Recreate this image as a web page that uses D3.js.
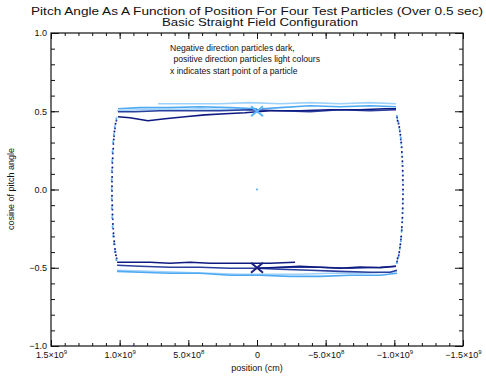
<!DOCTYPE html>
<html>
<head>
<meta charset="utf-8">
<script src="https://cdn.jsdelivr.net/npm/d3@7"></script>
<style>
  html, body { margin: 0; padding: 0; background: #fff; }
  svg { display: block; font-family: "Liberation Sans", Arial, sans-serif; }
</style>
</head>
<body>
<svg id="chart" width="486" height="379"></svg>
<script>
// ---- axis ticks ----
const xMajorTicks = [1.5e9, 1.0e9, 5.0e8, 0, -5.0e8, -1.0e9, -1.5e9];
const xTickLabels = [["1.5", "9"], ["1.0", "9"], ["5.0", "8"], ["0", null], ["\u22125.0", "8"], ["\u22121.0", "9"], ["\u22121.5", "9"]];
const yMajorTicks = [-1.0, -0.5, 0.0, 0.5, 1.0];
const yTickLabels = ["\u22121.0", "\u22120.5", "0.0", "0.5", "1.0"];

// ---- particle tracks: [position (cm), cosine of pitch angle], in time order ----
// Negative direction particle A (dark navy)
const darkTrackA = [
  [0, -0.503], [-1.67e8, -0.497], [-3.13e8, -0.490], [-4.59e8, -0.497], [-6.04e8, -0.503],
  [-7.50e8, -0.495], [-8.96e8, -0.500], [-1.012e9, -0.490],
  [-1.024e9, -0.44], [-1.036e9, -0.40], [-1.044e9, -0.35], [-1.050e9, -0.30], [-1.055e9, -0.24],
  [-1.059e9, -0.18], [-1.061e9, -0.12], [-1.062e9, -0.06], [-1.063e9, 0.00], [-1.062e9, 0.06],
  [-1.061e9, 0.12], [-1.059e9, 0.18], [-1.055e9, 0.24], [-1.050e9, 0.30], [-1.044e9, 0.35],
  [-1.036e9, 0.40], [-1.024e9, 0.44],
  [-1.012e9, 0.516], [-9.32e8, 0.516], [-7.50e8, 0.510], [-5.31e8, 0.510], [-3.13e8, 0.503],
  [-9.5e7, 0.503], [8.7e7, 0.490], [2.33e8, 0.484], [3.79e8, 0.477], [5.24e8, 0.465],
  [6.70e8, 0.452], [7.94e8, 0.439], [9.25e8, 0.458], [1.012e9, 0.465],
  [1.030e9, 0.42], [1.038e9, 0.37], [1.043e9, 0.32], [1.047e9, 0.26], [1.051e9, 0.20],
  [1.053e9, 0.14], [1.055e9, 0.08], [1.056e9, 0.02], [1.056e9, -0.04], [1.054e9, -0.10],
  [1.052e9, -0.16], [1.049e9, -0.22], [1.045e9, -0.28], [1.040e9, -0.33], [1.034e9, -0.38],
  [1.027e9, -0.42],
  [1.019e9, -0.465], [9.25e8, -0.465], [7.79e8, -0.465], [6.34e8, -0.471], [4.88e8, -0.465],
  [3.42e8, -0.471], [1.97e8, -0.471], [5.1e7, -0.471], [-9.5e7, -0.471], [-2.77e8, -0.465]
];
// Negative direction particle B (dark blue)
const darkTrackB = [
  [0, -0.503], [-1.67e8, -0.510], [-3.86e8, -0.516], [-6.04e8, -0.523], [-8.23e8, -0.529],
  [-9.69e8, -0.529], [-1.019e9, -0.516],
  [-1.020e9, -0.46], [-1.032e9, -0.42], [-1.041e9, -0.37], [-1.048e9, -0.32], [-1.054e9, -0.26],
  [-1.057e9, -0.21], [-1.060e9, -0.15], [-1.062e9, -0.09], [-1.063e9, -0.03], [-1.063e9, 0.03],
  [-1.062e9, 0.09], [-1.060e9, 0.15], [-1.057e9, 0.21], [-1.053e9, 0.27], [-1.047e9, 0.32],
  [-1.040e9, 0.37], [-1.031e9, 0.42], [-1.020e9, 0.46],
  [-1.012e9, 0.510], [-8.23e8, 0.503], [-6.04e8, 0.510], [-3.86e8, 0.497], [-1.67e8, 0.503],
  [5.1e7, 0.510], [2.69e8, 0.503], [4.88e8, 0.503], [7.06e8, 0.503], [8.88e8, 0.497],
  [1.012e9, 0.497],
  [1.024e9, 0.44], [1.034e9, 0.39], [1.041e9, 0.34], [1.046e9, 0.29], [1.050e9, 0.23],
  [1.053e9, 0.17], [1.055e9, 0.11], [1.056e9, 0.05], [1.056e9, -0.01], [1.055e9, -0.07],
  [1.053e9, -0.13], [1.050e9, -0.19], [1.047e9, -0.25], [1.042e9, -0.30], [1.037e9, -0.35],
  [1.030e9, -0.40], [1.022e9, -0.44],
  [1.019e9, -0.484], [8.52e8, -0.490], [6.34e8, -0.497], [4.15e8, -0.497], [1.97e8, -0.503],
  [-2.2e7, -0.503], [-2.40e8, -0.497], [-4.59e8, -0.497], [-6.77e8, -0.503], [-8.96e8, -0.497],
  [-1.012e9, -0.490]
];
// Positive direction particle A (light blue)
const lightTrackA = [
  [0, 0.516], [1.97e8, 0.523], [4.15e8, 0.529], [6.34e8, 0.523], [8.52e8, 0.523], [1.012e9, 0.516],
  [1.024e9, 0.45], [1.036e9, 0.40], [1.043e9, 0.35], [1.048e9, 0.30], [1.052e9, 0.24],
  [1.055e9, 0.18], [1.057e9, 0.12], [1.058e9, 0.06], [1.058e9, 0.00], [1.058e9, -0.06],
  [1.057e9, -0.12], [1.055e9, -0.18], [1.052e9, -0.24], [1.048e9, -0.30], [1.043e9, -0.35],
  [1.036e9, -0.40], [1.024e9, -0.45],
  [1.019e9, -0.523], [8.52e8, -0.529], [6.34e8, -0.535], [4.15e8, -0.535], [1.97e8, -0.548],
  [-2.2e7, -0.548], [-2.40e8, -0.555], [-4.59e8, -0.555], [-6.77e8, -0.548], [-8.96e8, -0.548],
  [-1.019e9, -0.535],
  [-1.018e9, -0.47], [-1.030e9, -0.43], [-1.040e9, -0.38], [-1.047e9, -0.33], [-1.053e9, -0.27],
  [-1.057e9, -0.21], [-1.060e9, -0.15], [-1.062e9, -0.09], [-1.063e9, -0.03], [-1.063e9, 0.03],
  [-1.062e9, 0.09], [-1.060e9, 0.15], [-1.057e9, 0.21], [-1.053e9, 0.27], [-1.047e9, 0.33],
  [-1.040e9, 0.38], [-1.030e9, 0.43], [-1.018e9, 0.47],
  [-1.012e9, 0.529], [-8.23e8, 0.535], [-6.04e8, 0.529], [-3.86e8, 0.535], [-1.67e8, 0.523],
  [-3.6e7, 0.516]
];
// Positive direction particle B (pale blue)
const lightTrackB = [
  [0, 0.510], [1.97e8, 0.510], [4.15e8, 0.516], [6.34e8, 0.510], [8.52e8, 0.510], [1.019e9, 0.503],
  [1.022e9, 0.46], [1.033e9, 0.41], [1.041e9, 0.36], [1.047e9, 0.31], [1.051e9, 0.25],
  [1.054e9, 0.19], [1.056e9, 0.13], [1.057e9, 0.07], [1.058e9, 0.01], [1.057e9, -0.05],
  [1.056e9, -0.11], [1.054e9, -0.17], [1.051e9, -0.23], [1.047e9, -0.29], [1.041e9, -0.34],
  [1.033e9, -0.39], [1.022e9, -0.45],
  [1.019e9, -0.516], [7.79e8, -0.523], [5.61e8, -0.529], [3.42e8, -0.535], [1.24e8, -0.542],
  [-9.5e7, -0.542], [-3.13e8, -0.542], [-5.31e8, -0.535], [-7.50e8, -0.535], [-9.69e8, -0.529],
  [-1.019e9, -0.523],
  [-1.022e9, -0.45], [-1.034e9, -0.41], [-1.043e9, -0.36], [-1.049e9, -0.31], [-1.054e9, -0.25],
  [-1.058e9, -0.19], [-1.061e9, -0.13], [-1.062e9, -0.07], [-1.063e9, -0.01], [-1.062e9, 0.05],
  [-1.061e9, 0.11], [-1.058e9, 0.17], [-1.054e9, 0.23], [-1.049e9, 0.29], [-1.043e9, 0.34],
  [-1.034e9, 0.39], [-1.022e9, 0.45],
  [-1.012e9, 0.548], [-8.23e8, 0.555], [-6.04e8, 0.548], [-3.86e8, 0.555], [-1.67e8, 0.548],
  [5.1e7, 0.555], [2.69e8, 0.548], [4.88e8, 0.548], [7.21e8, 0.548]
];
// Particle with no parallel motion (stays at its start)
const stationaryPoint = [[0, 0.0]];
// Start points of the moving particles
const lightStart = [0, 0.50];
const darkStart = [0, -0.50];

const particles = [
  { track: lightTrackB, color: "#9fd2fb" },
  { track: lightTrackA, color: "#4ea9f2" },
  { track: darkTrackB, color: "#2b3f9e" },
  { track: darkTrackA, color: "#0f1a80" }
];

// ---- layout ----
const svg = d3.select("#chart");
const x = d3.scaleLinear().domain([1.5e9, -1.5e9]).range([51, 463]);
const y = d3.scaleLinear().domain([-1, 1]).range([346, 33]);
const ink = "#111";

// titles
svg.append("text").attr("x", 257).attr("y", 15).attr("text-anchor", "middle")
  .attr("font-size", 11.5).attr("fill", ink).attr("textLength", 452).attr("lengthAdjust", "spacingAndGlyphs")
  .text("Pitch Angle As A Function of Position For Four Test Particles (Over 0.5 sec)");
svg.append("text").attr("x", 260).attr("y", 26).attr("text-anchor", "middle")
  .attr("font-size", 11.5).attr("fill", ink).attr("textLength", 196).attr("lengthAdjust", "spacingAndGlyphs")
  .text("Basic Straight Field Configuration");

// ---- axes (ticks point inward on all four sides) ----
function styleAxis(g) {
  g.select(".domain").remove();
  g.selectAll("line").attr("stroke", ink).attr("stroke-width", 1);
  g.selectAll("text").attr("fill", ink).attr("font-size", 9)
    .attr("font-family", "'Liberation Sans', Arial, sans-serif");
}
const xMinor = x.ticks(30);
const yMinor = y.ticks(20);

svg.append("g").attr("transform", `translate(0,${y.range()[0]})`)
  .call(d3.axisBottom(x).tickValues(xMinor).tickSize(-3).tickFormat("")).call(styleAxis);
svg.append("g").attr("transform", `translate(0,${y.range()[1]})`)
  .call(d3.axisTop(x).tickValues(xMinor).tickSize(-3).tickFormat("")).call(styleAxis);
svg.append("g").attr("transform", `translate(0,${y.range()[1]})`)
  .call(d3.axisTop(x).tickValues(xMajorTicks).tickSize(-6).tickFormat("")).call(styleAxis);
const xAxisG = svg.append("g").attr("transform", `translate(0,${y.range()[0]})`)
  .call(d3.axisBottom(x).tickValues(xMajorTicks).tickSize(-6).tickPadding(6).tickFormat(""))
  .call(styleAxis);
// x tick labels with superscript exponents
xAxisG.selectAll(".tick text").each(function (d, i) {
  const t = d3.select(this);
  const lab = xTickLabels[i];
  if (lab[1] === null) { t.text(lab[0]); return; }
  t.append("tspan").text(lab[0] + "\u00d710");
  t.append("tspan").attr("font-size", 6).attr("dy", -4).text(lab[1]);
});

svg.append("g").attr("transform", `translate(${x.range()[0]},0)`)
  .call(d3.axisLeft(y).tickValues(yMinor).tickSize(-4).tickFormat("")).call(styleAxis);
svg.append("g").attr("transform", `translate(${x.range()[1]},0)`)
  .call(d3.axisRight(y).tickValues(yMinor).tickSize(-4).tickFormat("")).call(styleAxis);
svg.append("g").attr("transform", `translate(${x.range()[1]},0)`)
  .call(d3.axisRight(y).tickValues(yMajorTicks).tickSize(-8).tickFormat("")).call(styleAxis);
svg.append("g").attr("transform", `translate(${x.range()[0]},0)`)
  .call(d3.axisLeft(y).tickValues(yMajorTicks).tickSize(-8).tickPadding(4)
    .tickFormat((d, i) => yTickLabels[i])).call(styleAxis);

// plot frame
svg.append("rect")
  .attr("x", x.range()[0]).attr("y", y.range()[1])
  .attr("width", x.range()[1] - x.range()[0]).attr("height", y.range()[0] - y.range()[1])
  .attr("fill", "none").attr("stroke", ink).attr("stroke-width", 1.2);

// axis titles
svg.append("text").attr("x", 257).attr("y", 371).attr("text-anchor", "middle")
  .attr("font-size", 9).attr("fill", ink).text("position (cm)");
svg.append("text").attr("transform", "translate(14,189) rotate(-90)").attr("text-anchor", "middle")
  .attr("font-size", 9).attr("fill", ink).text("cosine of pitch angle");

// annotation
const notes = [
  ["Negative direction particles dark,", 170, 51],
  ["\u00a0positive direction particles light colours", 171, 62],
  ["x indicates start point of a particle", 170, 74]
];
svg.append("g").selectAll("text").data(notes).join("text")
  .attr("x", d => d[1]).attr("y", d => d[2]).attr("font-size", 8.6).attr("fill", ink)
  .text(d => d[0]);

// ---- particle tracks ----
// Consecutive samples with a small change of pitch cosine are joined into lines;
// samples across the fast mirror turnarounds are shown as isolated dots.
function splitRuns(track) {
  const runs = [];
  let cur = [track[0]];
  for (let i = 1; i < track.length; i++) {
    if (Math.abs(track[i][1] - track[i - 1][1]) > 0.03) { runs.push(cur); cur = []; }
    cur.push(track[i]);
  }
  runs.push(cur);
  return runs;
}
const line = d3.line().x(d => x(d[0])).y(d => y(d[1])).curve(d3.curveLinear);
const plot = svg.append("g");
particles.forEach(p => {
  const runs = splitRuns(p.track);
  plot.append("g").selectAll("path").data(runs.filter(r => r.length > 1)).join("path")
    .attr("d", line).attr("fill", "none").attr("stroke", p.color)
    .attr("stroke-width", 1.6).attr("stroke-linejoin", "round");
  plot.append("g").selectAll("circle").data(runs.filter(r => r.length === 1).map(r => r[0])).join("circle")
    .attr("cx", d => x(d[0])).attr("cy", d => y(d[1])).attr("r", 1).attr("fill", p.color);
});
plot.selectAll("circle.still").data(stationaryPoint).join("circle").attr("class", "still")
  .attr("cx", d => x(d[0])).attr("cy", d => y(d[1])).attr("r", 1).attr("fill", "#4ea9f2");

// start markers
function cross(pt, color) {
  const cx = x(pt[0]), cy = y(pt[1]);
  plot.append("path")
    .attr("d", `M${cx - 6},${cy - 5}L${cx + 6},${cy + 5}M${cx - 6},${cy + 5}L${cx + 6},${cy - 5}`)
    .attr("stroke", color).attr("stroke-width", 2).attr("fill", "none");
}
cross(lightStart, "#5ab4ff");
cross(darkStart, "#1a1f80");
</script>
</body>
</html>
